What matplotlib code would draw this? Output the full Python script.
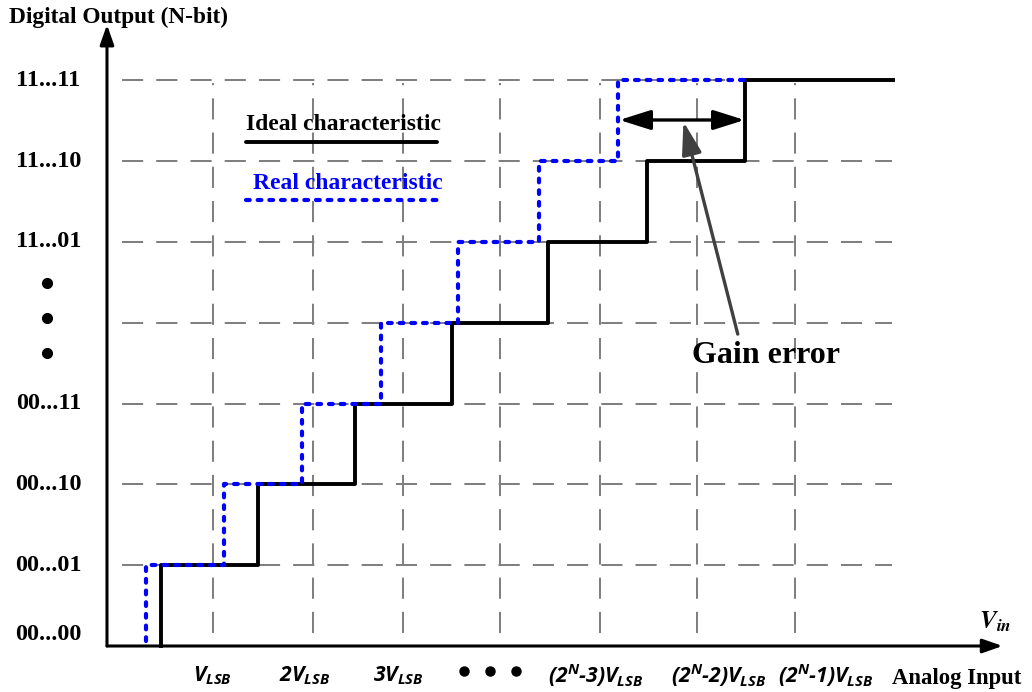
import matplotlib
matplotlib.use("Agg")
import matplotlib.pyplot as plt
import numpy as np

# --- Daten (Einheiten: x in V_LSB, y in Codestufen) ---
codes = [1, 2, 3, 4, 5, 6, 7]
ideal_steps = [0.46, 1.46, 2.46, 3.46, 4.45, 5.47, 6.48]
ideal_end = 8.01
real_steps = [0.31, 1.11, 1.92, 2.73, 3.53, 4.36, 5.18]
real_start = 0.06
real_end = 6.48

grid_x = [1.0, 2.03, 2.96, 3.96, 4.99, 5.99, 7.0]
grid_y = codes

y_labels = ["00...00", "00...01", "00...10", "00...11", "11...01", "11...10", "11...11"]
y_label_pos = [0.14, 1, 2, 3, 5, 6, 7]
y_dots = [4.49, 4.06, 3.63]

x_labels = [r"$V_{LSB}$", r"$2V_{LSB}$", r"$3V_{LSB}$",
            r"$(2^{N}\text{-}3)V_{LSB}$", r"$(2^{N}\text{-}2)V_{LSB}$",
            r"$(2^{N}\text{-}1)V_{LSB}$"]
x_label_pos = [0.99, 1.94, 2.91, 4.94, 6.21, 7.32]
x_dots = [3.59, 3.86, 4.12]

# --- Schriften ---
plt.rcParams["font.family"] = ["Liberation Serif", "DejaVu Serif"]
plt.rcParams["mathtext.fontset"] = "custom"
plt.rcParams["mathtext.rm"] = "Open Sans:bold:italic"
plt.rcParams["mathtext.it"] = "Open Sans:bold:italic"
plt.rcParams["mathtext.bf"] = "Open Sans:bold:italic"

# Zeichenfläche: 97 px pro V_LSB, 80.8 px pro Code, Ursprung bei (116, 646) px
W, H = 1032, 692
SX, SY, X0, Y0 = 97.0, 80.8, 116, 646

fig = plt.figure(figsize=(W / 100, H / 100), dpi=100)
ax = fig.add_axes([0, 0, 1, 1])
ax.set_xlim(-X0 / SX, (W - X0) / SX)
ax.set_ylim(-(H - Y0) / SY, Y0 / SY)
ax.axis("off")

grid_kw = dict(color="#808080", lw=1.45, dashes=(10.5, 6.5), zorder=1)
for gy in grid_y:
    ax.plot([0.06, 8.0], [gy, gy], **grid_kw)
for gx in grid_x:
    ax.plot([gx, gx], [0.16, 6.97], **grid_kw)

# Kennlinien
ax.step(np.r_[ideal_steps[0], ideal_steps, ideal_end],
        np.r_[0, codes, codes[-1]], where="post", color="black", lw=2.8, zorder=3)
ax.step(np.r_[real_steps[0], real_steps, real_end],
        np.r_[real_start, codes, codes[-1]], where="post", color="#0000FF", lw=3.0,
        dashes=(0.9, 1.9), dash_capstyle="round", zorder=4)

# Achsen mit Pfeilen
axis_kw = dict(arrowstyle="-|>,head_length=1.2,head_width=0.42", color="black",
               lw=2.2, shrinkA=0, shrinkB=0, mutation_scale=10)
ax.annotate("", xy=(9.14, 0), xytext=(-0.093, 0), arrowprops=axis_kw, zorder=5)
ax.annotate("", xy=(-0.093, 7.69), xytext=(-0.093, 0), arrowprops=axis_kw, zorder=5)

# Beschriftungen
ax.text(-1.103, 7.78, "Digital Output (N-bit)", fontsize=16.8, fontweight="bold",
        ha="left", va="center")
for lab, yp in zip(y_labels, y_label_pos):
    ax.text(-0.696, yp, lab, fontsize=17.5, fontweight="bold", ha="center", va="center")
ax.plot([-0.711] * 3, y_dots, "o", color="black", ms=7)

for lab, xp in zip(x_labels, x_label_pos):
    ax.text(xp, -0.37, lab, fontsize=15.2, ha="center", va="center")
ax.plot(x_dots, [-0.31] * 3, "o", color="black", ms=6.5)

ax.text(8.67, -0.40, "Analog Input", fontsize=16.4, fontweight="bold", ha="center", va="center")
ax.text(9.06, 0.30, r"$\mathbfit{V}_{\mathbfit{in}}$", fontsize=18, ha="center",
        va="center", math_fontfamily="stix")

# Legende
ax.text(2.34, 6.45, "Ideal characteristic", fontsize=17, fontweight="bold",
        ha="center", va="center")
ax.plot([1.34, 3.31], [6.24, 6.24], color="black", lw=2.8, solid_capstyle="round")
ax.text(2.39, 5.72, "Real characteristic", fontsize=17, fontweight="bold",
        color="#0000FF", ha="center", va="center")
ax.plot([1.34, 3.33], [5.52, 5.52], color="#0000FF", lw=3.0, dashes=(0.9, 1.9),
        dash_capstyle="round")

# Verstärkungsfehler
ax.annotate("", xy=(6.48, 6.51), xytext=(5.19, 6.51),
            arrowprops=dict(arrowstyle="<|-|>,head_length=1.9,head_width=0.6",
                            color="black", lw=2.4, shrinkA=0, shrinkB=0,
                            mutation_scale=10), zorder=6)
ax.annotate("", xy=(5.85, 6.49), xytext=(6.41, 3.86),
            arrowprops=dict(arrowstyle="-|>,head_length=2.0,head_width=0.6",
                            color="#404040", lw=2.4, shrinkA=0, shrinkB=0,
                            mutation_scale=10), zorder=7)
ax.text(6.70, 3.60, "Gain error", fontsize=23, fontweight="bold", ha="center", va="center")

fig.savefig("out.png", dpi=100)
